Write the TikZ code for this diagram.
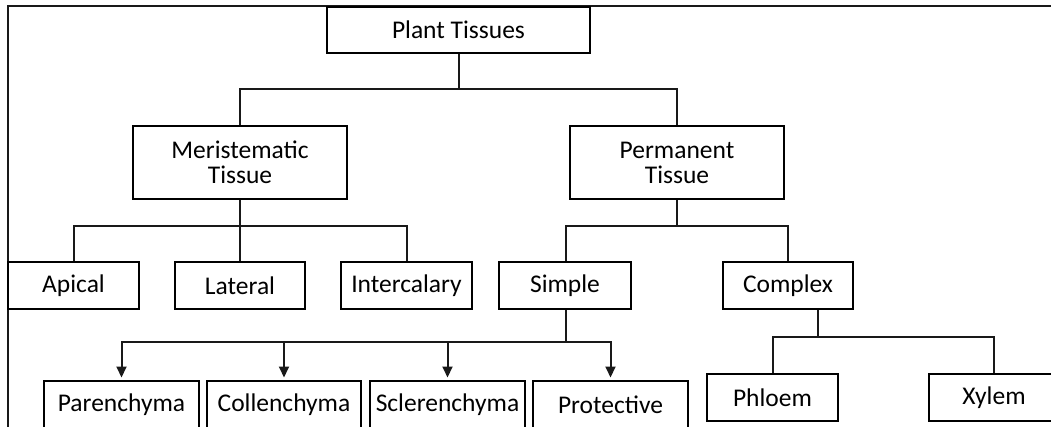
\documentclass[tikz,border=0pt]{standalone}
\usepackage{fontspec}
\setmainfont{Carlito}
\usetikzlibrary{arrows.meta}
\begin{document}
\begin{tikzpicture}[x=1pt,y=-1pt,
  box/.style={draw=black,line width=2pt,minimum height=47pt,inner sep=0pt,align=center,
    font=\fontsize{25.5}{25}\selectfont,text=black},
  conn/.style={line width=2pt,black!90},
  arr/.style={conn,-{Triangle[width=10pt,length=11pt]},shorten >=2.5pt}]
\useasboundingbox (0,0) rectangle (1051,427);
\clip (0,0) rectangle (1051,427);
\draw[line width=2.2pt,black!90] (8,430) -- (8,6) -- (1052,6);
% level 0
\node[box,minimum width=263pt,minimum height=46pt] (pt) at (458.5,30) {Plant Tissues};
% level 1
\node[box,minimum width=214pt,minimum height=73pt] (mer) at (240,162.5) {Meristematic\\Tissue};
\node[box,minimum width=214pt,minimum height=73pt] (per) at (677,162.5) {Permanent\\Tissue};
% level 2
\node[box,minimum width=131pt] (api) at (73.5,285.5) {Apical};
\node[box,minimum width=130pt] (lat) at (240,285.5) {Lateral};
\node[box,minimum width=131pt] (int) at (406.5,285.5) {Intercalary};
\node[box,minimum width=132pt] (sim) at (565,285.5) {Simple};
\node[box,minimum width=130pt] (com) at (788,285.5) {Complex};
% level 3
\node[box,minimum width=155pt] (par) at (121.5,404.5) {Parenchyma};
\node[box,minimum width=154pt] (col) at (284,404.5) {Collenchyma};
\node[box,minimum width=155pt] (scl) at (447.5,404.5) {Sclerenchyma};
\node[box,minimum width=155pt] (pro) at (610.5,404.5) {Protective};
\node[box,minimum width=131pt] (phl) at (772.5,397.5) {Phloem};
\node[box,minimum width=130pt] (xyl) at (994,397.5) {Xylem};
% junctions
\coordinate (j1) at (458.5,89);
\coordinate (j2) at (240,226);
\coordinate (j3) at (677,226);
\coordinate (j4) at (566,342);
\coordinate (j5) at (818,337);
% connectors
\draw[conn] (pt.south) -- (j1);
\draw[conn] (mer.north) |- (j1) -| (per.north);
\draw[conn] (mer.south) -- (lat.north);
\draw[conn] (api.north) |- (j2) -| (int.north);
\draw[conn] (per.south) -- (j3);
\draw[conn] (sim.north -| j4) |- (j3) -| (com.north);
\draw[conn] (sim.south -| j4) -- (j4);
\draw[arr] (j4) -| (par.north);
\draw[arr] (j4) -| (col.north);
\draw[arr] (j4) -| (scl.north);
\draw[arr] (j4) -| (pro.north);
\draw[conn] (com.south -| j5) -- (j5);
\draw[conn] (phl.north) |- (j5) -| (xyl.north);
\end{tikzpicture}
\end{document}
